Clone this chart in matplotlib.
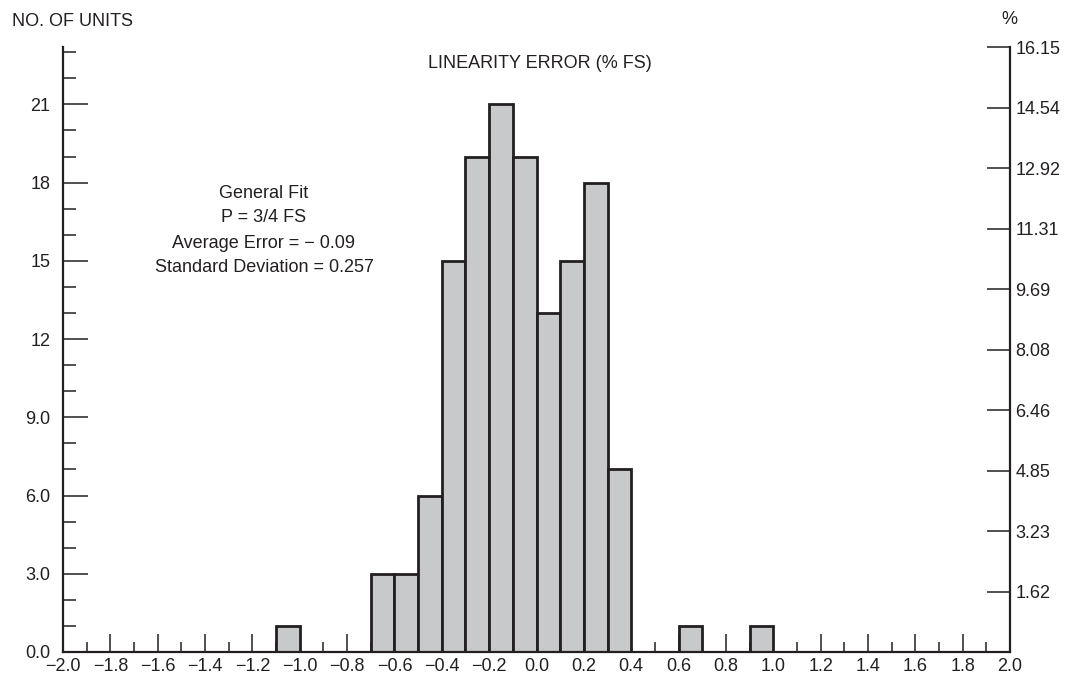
import matplotlib
matplotlib.use("Agg")
import matplotlib.pyplot as plt
import numpy as np

# Histogram of linearity error (% FS), bin width 0.1
bin_left = [-1.1, -0.7, -0.6, -0.5, -0.4, -0.3, -0.2, -0.1, 0.0, 0.1, 0.2, 0.3, 0.6, 0.9]
counts = [1, 3, 3, 6, 15, 19, 21, 19, 13, 15, 18, 7, 1, 1]
bin_width = 0.1

# Left axis labels (number of units)
unit_ticks = [0, 3, 6, 9, 12, 15, 18, 21]
unit_labels = ["0.0", "3.0", "6.0", "9.0", "12", "15", "18", "21"]

# Right axis labels (percent of population)
pct_labels = ["1.62", "3.23", "4.85", "6.46", "8.08", "9.69", "11.31", "12.92", "14.54", "16.15"]
total_units = 143.6

x_ticks = np.round(np.arange(-2.0, 2.01, 0.2), 1)
x_labels = ["\u22122.0", "\u22121.8", "\u22121.6", "\u22121.4", "\u22121.2", "\u22121.0",
            "\u22120.8", "\u22120.6", "\u22120.4", "\u22120.2", "0.0", "0.2", "0.4", "0.6",
            "0.8", "1.0", "1.2", "1.4", "1.6", "1.8", "2.0"]

note_lines = ["General Fit", "P = 3/4 FS", "Average Error = \u2212 0.09", "Standard Deviation = 0.257"]

plt.rcParams["font.family"] = ["Liberation Sans Narrow", "Liberation Sans", "DejaVu Sans"]
plt.rcParams["font.size"] = 13
ink = "#231f20"
fill = "#c8c9cb"

W, H = 1065, 679
fig = plt.figure(figsize=(W / 100, H / 100), dpi=100)
x0, x1, y0, y1 = 63, 1010, 652, 47
ax = fig.add_axes([x0 / W, 1 - y0 / H, (x1 - x0) / W, (y0 - y1) / H])

ax.set_xlim(-2.0, 2.0)
ax.set_ylim(0, 23.2)

ax.bar(bin_left, counts, width=bin_width, align="edge", color=fill,
       edgecolor=ink, linewidth=2.0, zorder=2)
ax.set_axisbelow(True)

for side in ["top", "right"]:
    ax.spines[side].set_visible(False)
for side in ["left", "bottom"]:
    ax.spines[side].set_linewidth(1.6)
    ax.spines[side].set_color(ink)
    ax.spines[side].set_zorder(3)

# x axis ticks
ax.set_xticks(x_ticks)
ax.set_xticklabels(x_labels)
ax.set_xticks(np.round(np.arange(-1.9, 2.0, 0.2), 1), minor=True)
ax.tick_params(axis="x", which="major", direction="in", length=13, width=1.1,
               color=ink, labelcolor=ink, pad=4)
ax.tick_params(axis="x", which="minor", direction="in", length=7.5, width=1.1, color=ink)

# left y axis ticks
ax.set_yticks(unit_ticks)
ax.set_yticklabels(unit_labels)
ax.set_yticks([v for v in range(1, 24) if v % 3 != 0], minor=True)
ax.tick_params(axis="y", which="major", direction="in", length=18, width=1.1,
               color=ink, labelcolor=ink, pad=9)
ax.tick_params(axis="y", which="minor", direction="in", length=9.5, width=1.1, color=ink)

# right percent axis
ax2 = ax.twinx()
ax2.set_ylim(ax.get_ylim())
pct_vals = [float(p) for p in pct_labels]
pct_pos = [(k + 1) * 16.15 / 10 * total_units / 100 for k in range(len(pct_vals))]
ax2.set_yticks(pct_pos)
ax2.set_yticklabels(pct_labels)
ax2.tick_params(axis="y", which="major", direction="in", length=16.5, width=1.1,
                color=ink, labelcolor=ink, pad=4)
for side in ["top", "left", "bottom"]:
    ax2.spines[side].set_visible(False)
ax2.spines["right"].set_linewidth(1.6)
ax2.spines["right"].set_color(ink)
ax2.spines["right"].set_bounds(0, pct_pos[-1])

# titles and notes
fig.text(12 / W, 1 - 22 / H, "NO. OF UNITS", ha="left", va="center", color=ink)
fig.text(1009 / W, 1 - 20 / H, "%", ha="center", va="center", color=ink)
fig.text(540 / W, 1 - 63 / H, "LINEARITY ERROR (% FS)", ha="center", va="center", color=ink)
for i, line in enumerate(note_lines):
    fig.text(264 / W, 1 - (193 + 25 * i) / H, line, ha="center", va="center", color=ink)

fig.savefig("out.png", dpi=100)
